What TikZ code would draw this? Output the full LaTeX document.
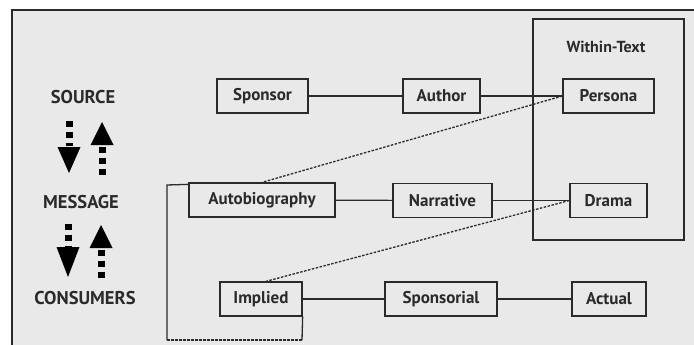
\documentclass[tikz,border=0pt]{standalone}
\usepackage{fontspec}
\setmainfont{PT Sans}
\newfontfamily\lab{PT Sans}
\usetikzlibrary{calc}
\definecolor{ink}{HTML}{2A2A2A}
\definecolor{bg}{HTML}{E9E9E9}
\tikzset{
  box/.style={draw=ink, line width=1.3pt, font=\lab\bfseries\fontsize{17}{19}\selectfont, text=ink, inner sep=0pt, minimum height=34pt},
  sidelabel/.style={font=\lab\bfseries\fontsize{18.5}{20}\selectfont, text=ink, inner sep=0pt},
  link/.style={draw=ink, line width=1.2pt},
  dlink/.style={draw=ink, line width=1.3pt, dash pattern=on 2.5pt off 1.5pt},
  shaft/.style={draw=black, line width=7pt, dash pattern=on 6.5pt off 4.5pt},
}
\begin{document}
\begin{tikzpicture}[x=1pt,y=-1pt]
\useasboundingbox (0,0) rectangle (694,345);
\fill[white] (0,0) rectangle (694,345);
\fill[bg] (12,10) rectangle (694,345);
\draw[ink, line width=1.4pt] (12,350) -- (12,10) -- (700,10);

% left column
\node[sidelabel] (src) at (83,97) {SOURCE};
\node[sidelabel] (msg) at (81,202) {MESSAGE};
\node[sidelabel] (con) at (85,298) {CONSUMERS};

% arrows pair 1
\draw[shaft] (69,120.5) -- (69,146);
\fill[black] (57.5,147) -- (80.5,147) -- (69,173) -- cycle;
\draw[shaft] (102,146.5) -- (102,176);
\fill[black] (90.5,145) -- (113.5,145) -- (102,122) -- cycle;
% arrows pair 2
\draw[shaft] (68,223.5) -- (68,246);
\fill[black] (56.5,247) -- (79.5,247) -- (68,277) -- cycle;
\draw[shaft] (101,249.5) -- (101,279);
\fill[black] (89.5,248) -- (112.5,248) -- (101,225) -- cycle;

% within-text frame
\draw[ink, line width=1.3pt] (533,19) rectangle (684,240);
\node[sidelabel, font=\lab\bfseries\fontsize{16}{18}\selectfont] (wt) at (606,47) {Within-Text};

% boxes
\node[box, minimum width=91pt] (sponsor) at (262.5,96) {Sponsor};
\node[box, minimum width=77pt] (author) at (441.5,96) {Author};
\node[box, minimum width=91pt] (persona) at (608.5,96) {Persona};
\node[box, minimum width=146pt] (auto) at (262,200) {Autobiography};
\node[box, minimum width=99pt] (narr) at (442.5,200.5) {Narrative};
\node[box, minimum width=77pt] (drama) at (608.5,200.5) {Drama};
\node[box, minimum width=82pt] (impl) at (261,299) {Implied};
\node[box, minimum width=112pt] (spons) at (441,299) {Sponsorial};
\node[box, minimum width=74pt] (actual) at (609,299) {Actual};

% solid links
\draw[link] (sponsor) -- (author);
\draw[link] (author) -- (persona);
\draw[link] (auto) -- (narr);
\draw[link] (narr) -- (drama);
\draw[link] (impl) -- (spons);
\draw[link] (spons) -- (actual);

% dashed links
\draw[dlink] (persona.west) -- (auto.north);
\draw[dlink] (drama.west) -- ($(impl.north)+(5,0)$);

% bracket
\coordinate (bl) at (167,340);
\coordinate (br) at (302,340);
\draw[ink, line width=1.3pt] ($(auto.north west)+(0,2)$) -- (167,185) -- (bl);
\draw[ink, line width=1.3pt] (impl.south east) -- (br);
\draw[dlink] (bl) -- (br);
\end{tikzpicture}
\end{document}
